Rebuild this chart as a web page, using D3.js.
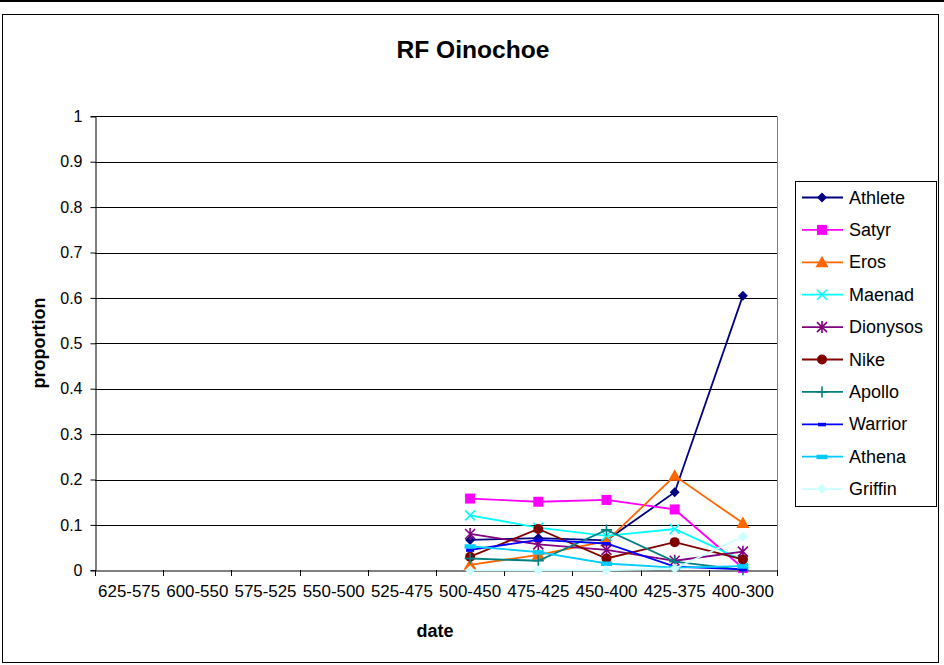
<!DOCTYPE html>
<html><head><meta charset="utf-8">
<script src="https://cdn.jsdelivr.net/npm/d3@7"></script>
<style>body{margin:0;background:#fff;} text{font-family:Arial,"Liberation Sans",sans-serif;}</style>
</head><body><svg id="c" width="944" height="665"></svg>
<script>
const categories = ["625-575","600-550","575-525","550-500","525-475","500-450","475-425","450-400","425-375","400-300"];
const yTicks = [0,0.1,0.2,0.3,0.4,0.5,0.6,0.7,0.8,0.9,1];
const seriesNames = ["Athlete","Satyr","Eros","Maenad","Dionysos","Nike","Apollo","Warrior","Athena","Griffin"];
const athlete  = [null,null,null,null,null,0.067,0.071,0.066,0.172,0.605];
const satyr    = [null,null,null,null,null,0.158,0.151,0.155,0.134,0.005];
const eros     = [null,null,null,null,null,0.012,0.034,0.064,0.208,0.104];
const maenad   = [null,null,null,null,null,0.121,0.094,0.076,0.091,0.022];
const dionysos = [null,null,null,null,null,0.080,0.057,0.045,0.021,0.041];
const nike     = [null,null,null,null,null,0.030,0.091,0.026,0.062,0.024];
const apollo   = [null,null,null,null,null,0.026,0.021,0.089,0.019,0.001];
const warrior  = [null,null,null,null,null,0.045,0.067,0.059,0.008,0.002];
const athena   = [null,null,null,null,null,0.053,0.040,0.015,0.006,0.009];
const griffin  = [null,null,null,null,null,0.000,0.000,0.000,0.004,0.074];
const seriesValues = [athlete,satyr,eros,maenad,dionysos,nike,apollo,warrior,athena,griffin];
const colors = ["#000080","#FF00FF","#FF6600","#00FFFF","#800080","#800000","#008080","#0000FF","#00CCFF","#CCFFFF"];
const markers = ["diamond","square","triangle","x","star","circle","plus","dash","wdash","diamond"];

const svg = d3.select("#c");
svg.append("rect").attr("x",0).attr("y",0).attr("width",944).attr("height",2).attr("fill","#000");
svg.append("rect").attr("x",2.5).attr("y",14.5).attr("width",936).attr("height",648)
  .attr("fill","#fff").attr("stroke","#000").attr("stroke-width",1);

const L=95, R=777, T=116.3, B=570.3;
const x = d3.scaleBand().domain(categories).range([L,R]);
const y = d3.scaleLinear().domain([0,1]).range([B,T]);

// gridlines
svg.append("g").selectAll("line").data(yTicks.filter(d=>d>0)).join("line")
  .attr("x1",L).attr("x2",R).attr("y1",d=>Math.round(y(d))+0.5).attr("y2",d=>Math.round(y(d))+0.5)
  .attr("stroke","#000").attr("stroke-width",1);
svg.append("line").attr("x1",R+0.5).attr("x2",R+0.5).attr("y1",T).attr("y2",B).attr("stroke","#808080");

// y axis
const ya = svg.append("g").attr("transform",`translate(${L+0.5},0)`)
  .call(d3.axisLeft(y).tickValues(yTicks).tickFormat(d=>d3.format("")(d)).tickSize(5).tickPadding(8));
ya.select(".domain").attr("stroke","#000");
ya.selectAll("text").attr("font-size",16).attr("font-family","Arial, 'Liberation Sans', sans-serif").attr("fill","#000");
// x axis
const xa = svg.append("g").attr("transform",`translate(0,${Math.round(B)+0.5})`)
  .call(d3.axisBottom(x).tickSize(0).tickPadding(15));
xa.select(".domain").attr("stroke","#000");
xa.selectAll("text").attr("font-size",16).attr("font-family","Arial, 'Liberation Sans', sans-serif").attr("fill","#000")
  .attr("textLength",62).attr("lengthAdjust","spacingAndGlyphs");
const bounds = categories.map(c=>x(c)).concat([R]);
svg.append("g").selectAll("line").data(bounds).join("line")
  .attr("x1",d=>Math.round(d)+0.5).attr("x2",d=>Math.round(d)+0.5)
  .attr("y1",Math.round(B)).attr("y2",Math.round(B)+6).attr("stroke","#000");

// title & axis labels
svg.append("text").attr("x",473).attr("y",58).attr("text-anchor","middle").attr("font-size",23)
  .attr("font-weight","bold").attr("textLength",153).attr("lengthAdjust","spacingAndGlyphs").text("RF Oinochoe");
svg.append("text").attr("x",435).attr("y",637).attr("text-anchor","middle").attr("font-size",18)
  .attr("font-weight","bold").text("date");
svg.append("text").attr("transform","translate(45,343) rotate(-90)").attr("text-anchor","middle")
  .attr("font-size",18).attr("font-weight","bold").text("proportion");

function drawMarker(g, type, color, cx, cy){
  const s = 5;
  if(type==="diamond"){
    g.append("path").attr("d",`M${cx},${cy-s}L${cx+s},${cy}L${cx},${cy+s}L${cx-s},${cy}Z`).attr("fill",color);
  } else if(type==="square"){
    g.append("rect").attr("x",cx-5).attr("y",cy-5).attr("width",10).attr("height",10).attr("fill",color);
  } else if(type==="triangle"){
    g.append("path").attr("d",`M${cx},${cy-6.5}L${cx+6.5},${cy+5}L${cx-6.5},${cy+5}Z`).attr("fill",color);
  } else if(type==="x"){
    g.append("path").attr("d",`M${cx-5},${cy-5}L${cx+5},${cy+5}M${cx-5},${cy+5}L${cx+5},${cy-5}`).attr("stroke",color).attr("stroke-width",1.6);
  } else if(type==="star"){
    g.append("path").attr("d",`M${cx-5},${cy-5}L${cx+5},${cy+5}M${cx-5},${cy+5}L${cx+5},${cy-5}M${cx},${cy-6}L${cx},${cy+6}`).attr("stroke",color).attr("stroke-width",1.6);
  } else if(type==="circle"){
    g.append("circle").attr("cx",cx).attr("cy",cy).attr("r",5).attr("fill",color);
  } else if(type==="plus"){
    g.append("path").attr("d",`M${cx-5.5},${cy}L${cx+5.5},${cy}M${cx},${cy-5.5}L${cx},${cy+5.5}`).attr("stroke",color).attr("stroke-width",1.6);
  } else if(type==="dash"){
    g.append("rect").attr("x",cx-4).attr("y",cy-1.5).attr("width",8).attr("height",3.5).attr("fill",color);
  } else if(type==="wdash"){
    g.append("rect").attr("x",cx-5.5).attr("y",cy-2).attr("width",11).attr("height",4.5).attr("fill",color);
  }
}

const cxOf = c => x(c)+x.bandwidth()/2;
const line = d3.line().defined(d=>d.v!=null).x(d=>cxOf(d.c)).y(d=>y(d.v));
seriesValues.forEach((vals,i)=>{
  const data = categories.map((c,j)=>({c, v: vals[j]}));
  const g = svg.append("g");
  g.append("path").datum(data).attr("d",line).attr("fill","none").attr("stroke",colors[i]).attr("stroke-width",1.8);
  data.filter(d=>d.v!=null).forEach(d=>drawMarker(g,markers[i],colors[i],cxOf(d.c),y(d.v)));
});

// legend
svg.append("rect").attr("x",795.5).attr("y",181.5).attr("width",141).attr("height",325)
  .attr("fill","#fff").attr("stroke","#000");
seriesNames.forEach((n,i)=>{
  const ly = 197.5 + i*32.4;
  const g = svg.append("g");
  g.append("line").attr("x1",802).attr("x2",843).attr("y1",ly).attr("y2",ly).attr("stroke",colors[i]).attr("stroke-width",1.8);
  drawMarker(g,markers[i],colors[i],822,ly);
  g.append("text").attr("x",849).attr("y",ly+6).attr("font-size",18).text(n);
});
</script></body></html>
